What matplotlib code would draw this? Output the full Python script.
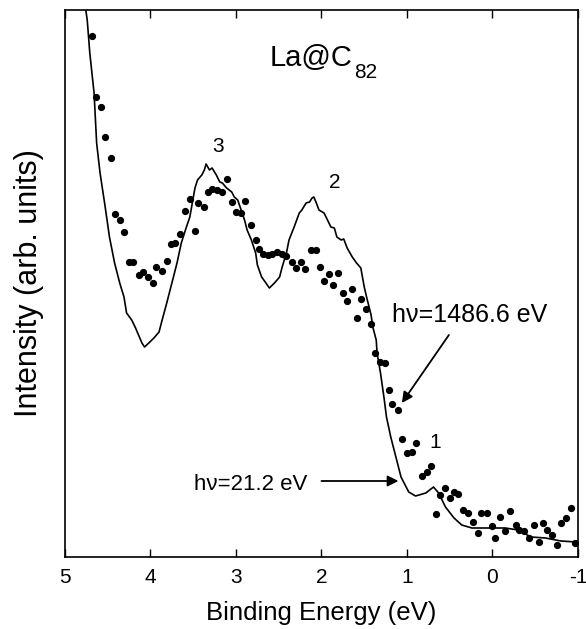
import matplotlib
matplotlib.use("Agg")
import matplotlib.pyplot as plt

plt.rcParams['font.family'] = ['Liberation Sans', 'DejaVu Sans']

# UPS spectrum, hv = 21.2 eV (solid line)
ups_energy = [4.76, 4.74, 4.71, 4.66, 4.63, 4.59, 4.53, 4.48, 4.42, 4.36, 4.31, 4.28,
              4.22, 4.18, 4.14, 4.10, 4.07, 4.02, 3.96, 3.90, 3.87, 3.81, 3.75, 3.69,
              3.64, 3.58, 3.54, 3.48, 3.45, 3.40, 3.37, 3.35, 3.31, 3.28, 3.23, 3.19,
              3.16, 3.11, 3.05, 3.02, 2.98, 2.94, 2.90, 2.87, 2.82, 2.77, 2.75, 2.70,
              2.65, 2.61, 2.55, 2.49, 2.46, 2.41, 2.38, 2.32, 2.26, 2.23, 2.18, 2.14,
              2.11, 2.09, 2.06, 2.03, 1.97, 1.93, 1.89, 1.85, 1.82, 1.77, 1.74, 1.70,
              1.64, 1.59, 1.54, 1.50, 1.47, 1.42, 1.40, 1.36, 1.35, 1.31, 1.27, 1.24,
              1.19, 1.13, 1.07, 0.98, 0.90, 0.78, 0.69, 0.63, 0.55, 0.45, 0.36, 0.24,
              0.05, -0.15, -0.30, -0.45, -0.62, -0.80, -0.98]
ups_intensity = [109.8, 107.4, 100.8, 92.8, 82.8, 76.8, 70.0, 64.0, 58.8, 54.8, 52.0, 48.8,
                 47.4, 46.0, 44.4, 42.8, 42.0, 42.8, 43.8, 45.0, 47.0, 50.8, 54.8, 58.8,
                 62.8, 66.0, 68.0, 73.8, 75.4, 76.4, 77.4, 78.6, 77.4, 77.8, 76.4, 75.0,
                 74.8, 73.8, 73.0, 72.0, 71.4, 69.4, 67.4, 65.4, 63.4, 60.8, 58.4, 56.0,
                 54.8, 53.8, 54.8, 56.0, 58.0, 60.8, 63.4, 66.0, 68.8, 69.4, 70.8, 71.0,
                 71.8, 72.0, 70.8, 69.4, 68.8, 67.4, 66.0, 65.8, 64.0, 63.4, 63.6, 61.8,
                 60.0, 58.8, 57.8, 54.0, 51.8, 48.4, 46.0, 43.4, 40.8, 36.8, 32.0, 28.0,
                 24.0, 20.0, 16.0, 13.0, 12.2, 12.8, 14.0, 12.8, 10.0, 7.8, 6.4, 5.8,
                 5.8, 5.8, 5.4, 4.0, 3.8, 3.2, 3.0]

# XPS spectrum, hv = 1486.6 eV (dots)
xps_energy = [4.69, 4.64, 4.58, 4.53, 4.46, 4.42, 4.36, 4.31, 4.25, 4.20, 4.14, 4.09,
              4.03, 3.97, 3.93, 3.87, 3.81, 3.76, 3.71, 3.65, 3.60, 3.54, 3.48, 3.44,
              3.38, 3.33, 3.28, 3.22, 3.16, 3.10, 3.05, 3.00, 2.94, 2.89, 2.83, 2.77,
              2.73, 2.68, 2.63, 2.58, 2.52, 2.46, 2.41, 2.35, 2.30, 2.24, 2.19, 2.12,
              2.07, 2.02, 1.97, 1.91, 1.86, 1.81, 1.75, 1.70, 1.64, 1.59, 1.54, 1.48,
              1.42, 1.38, 1.31, 1.26, 1.21, 1.17, 1.11, 1.06, 1.00, 0.94, 0.89, 0.83,
              0.77, 0.72, 0.66, 0.61, 0.56, 0.50, 0.45, 0.40, 0.34, 0.29, 0.23, 0.17,
              0.13, 0.07, 0.01, -0.03, -0.09, -0.15, -0.21, -0.27, -0.31, -0.37, -0.43,
              -0.48, -0.54, -0.59, -0.64, -0.70, -0.75, -0.80, -0.86, -0.92, -0.97]
xps_intensity = [104.2, 92.0, 90.0, 84.0, 79.8, 68.6, 67.4, 65.0, 59.0, 59.0, 56.4, 57.0,
                 56.0, 54.8, 58.0, 57.2, 59.2, 62.6, 62.8, 64.6, 69.2, 71.6, 65.2, 70.8,
                 70.0, 73.0, 73.6, 73.4, 73.0, 75.6, 71.0, 69.0, 68.8, 71.2, 66.4, 63.4,
                 61.6, 60.6, 60.4, 60.6, 61.0, 60.6, 60.2, 59.0, 57.8, 59.0, 57.6, 61.4,
                 61.4, 58.0, 55.2, 56.6, 54.4, 56.8, 52.8, 51.2, 53.6, 47.8, 51.6, 49.6,
                 46.6, 40.8, 39.0, 38.8, 33.4, 30.6, 29.4, 23.6, 20.8, 21.0, 22.8, 16.2,
                 17.0, 18.2, 8.6, 12.4, 13.8, 11.8, 13.0, 12.6, 9.4, 8.8, 7.0, 4.8,
                 8.8, 8.8, 6.2, 3.8, 8.0, 5.2, 9.2, 6.4, 5.4, 5.2, 3.8,
                 6.4, 3.0, 6.8, 5.4, 4.4, 2.4, 6.8, 7.8, 9.8, 2.8]

x_ticks = [5, 4, 3, 2, 1, 0, -1]
x_tick_labels = ['5', '4', '3', '2', '1', '0', '-1']

fig = plt.figure(figsize=(5.86, 6.29), dpi=100)
ax = fig.add_axes([65/586, 1 - 557/629, (578 - 65)/586, (557 - 10)/629])

ax.plot(ups_energy, ups_intensity, color='black', lw=1.2, zorder=2)
ax.plot(xps_energy, xps_intensity, 'o', color='black', ms=4.2, mec='black', zorder=3)

ax.set_xlim(5, -1)
ax.set_ylim(0, 109.4)
ax.set_xticks(x_ticks)
ax.set_xticklabels(x_tick_labels, fontsize=15)
ax.set_yticks([])
ax.tick_params(axis='x', direction='in', length=6, width=1.0, top=True, pad=8)
for s in ax.spines.values():
    s.set_linewidth(1.2)

ax.set_xlabel('Binding Energy (eV)', fontsize=18.5, labelpad=10)
ax.set_ylabel('Intensity (arb. units)', fontsize=22, labelpad=15)

ax.text(2.61, 99.8, 'La@C', fontsize=21, ha='left', va='center')
ax.text(1.62, 96.9, '82', fontsize=15, ha='left', va='center')
ax.text(3.21, 82.2, '3', fontsize=15, ha='center', va='center')
ax.text(1.85, 74.8, '2', fontsize=15, ha='center', va='center')
ax.text(0.67, 22.8, '1', fontsize=15, ha='center', va='center')

ax.annotate('', xy=(1.06, 30.8), xytext=(0.51, 44.4),
            arrowprops=dict(arrowstyle='-|>', color='black', lw=1.3,
                            mutation_scale=16, shrinkA=0, shrinkB=0))
ax.text(1.18, 48.4, 'h\u03bd=1486.6 eV', fontsize=18, ha='left', va='center')

ax.annotate('', xy=(1.10, 15.2), xytext=(2.00, 15.2),
            arrowprops=dict(arrowstyle='-|>', color='black', lw=1.3,
                            mutation_scale=16, shrinkA=0, shrinkB=0))
ax.text(2.17, 14.4, 'h\u03bd=21.2 eV', fontsize=16, ha='right', va='center')

fig.savefig('out.png', dpi=100)
